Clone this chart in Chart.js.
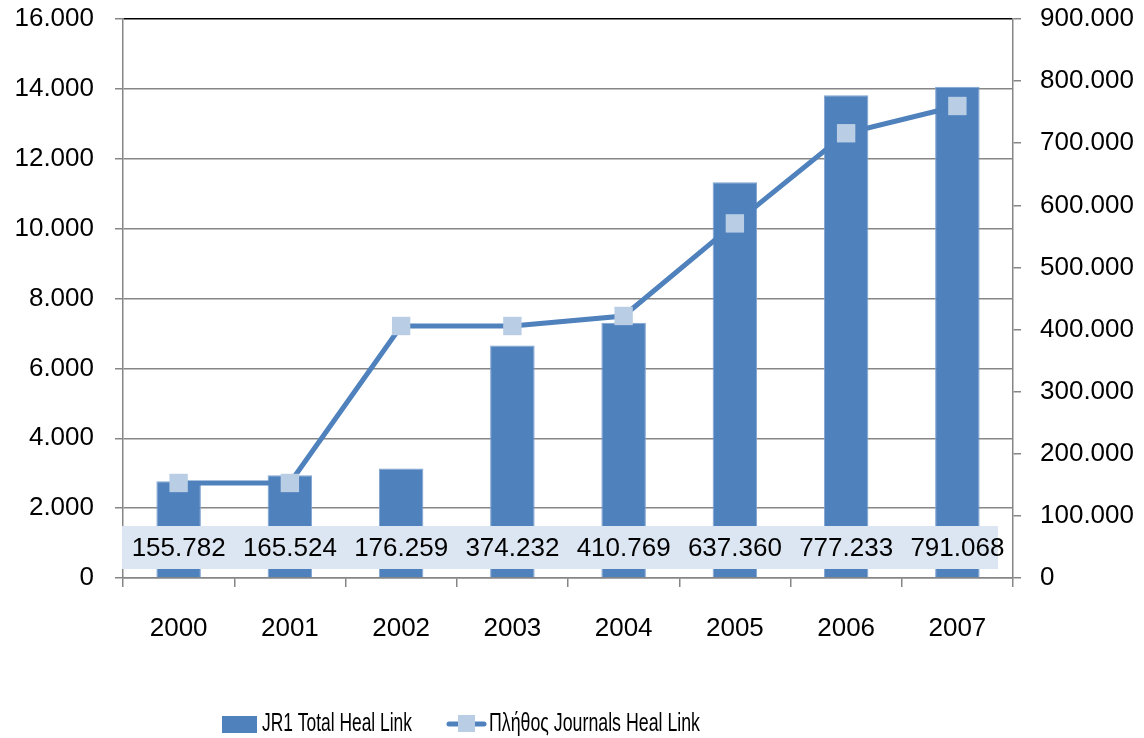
<!DOCTYPE html>
<html>
<head>
<meta charset="utf-8">
<script src="https://cdn.jsdelivr.net/npm/chart.js@4.4.1/dist/chart.umd.min.js"></script>
<style>
  html, body { margin: 0; padding: 0; background: #fff; }
  #wrap { width: 1144px; height: 738px; }
</style>
</head>
<body>
<div id="wrap"><canvas id="chart" width="1144" height="738"></canvas></div>
<script>
// Chart data
const years = ['2000', '2001', '2002', '2003', '2004', '2005', '2006', '2007'];
const jr1Total = [155782, 165524, 176259, 374232, 410769, 637360, 777233, 791068];
const journalsCount = [2720, 2720, 7213, 7213, 7500, 10150, 12730, 13510];
const leftTicks = [0, 2000, 4000, 6000, 8000, 10000, 12000, 14000, 16000];
const rightTicks = [0, 100000, 200000, 300000, 400000, 500000, 600000, 700000, 800000, 900000];
const seriesNames = ['JR1 Total Heal Link', 'Πλήθος Journals Heal Link'];

const FONT = '"Liberation Sans", Arial, sans-serif';
const BLUE = '#4f81bd';
const LIGHT = '#b9cde5';
const GRID = '#868686';

// dotted thousands, like 155.782
function fmt(v) {
    return String(v).replace(/\B(?=(\d{3})+(?!\d))/g, '.');
}

// light band with the bar values, drawn near the bottom of the plot
const valueBand = {
    id: 'valueBand',
    afterDatasetsDraw(chart) {
        const ctx = chart.ctx;
        const area = chart.chartArea;
        const x = chart.scales.x;
        ctx.save();
        ctx.fillStyle = '#dce6f2';
        ctx.fillRect(area.left - 1, 526, area.right - area.left - 14, 43);
        ctx.fillStyle = '#000';
        ctx.font = '26px ' + FONT;
        ctx.textAlign = 'center';
        ctx.textBaseline = 'middle';
        jr1Total.forEach((v, i) => {
            ctx.fillText(fmt(v), x.getPixelForValue(i), 549);
        });
        ctx.restore();
    }
};

// legend at the bottom: bar swatch, line with square marker
const bottomLegend = {
    id: 'bottomLegend',
    afterDraw(chart) {
        const ctx = chart.ctx;
        ctx.save();
        ctx.font = '25px ' + FONT;
        ctx.textBaseline = 'middle';
        ctx.fillStyle = BLUE;
        ctx.fillRect(222, 716, 35, 17);
        ctx.fillStyle = '#000';
        ctx.fillText(seriesNames[0], 262, 724, 150);

        ctx.strokeStyle = BLUE;
        ctx.lineWidth = 5;
        ctx.lineCap = 'round';
        ctx.beginPath();
        ctx.moveTo(449, 724);
        ctx.lineTo(484, 724);
        ctx.stroke();
        ctx.fillStyle = LIGHT;
        ctx.fillRect(458, 715, 17, 17);
        ctx.fillStyle = '#000';
        ctx.fillText(seriesNames[1], 489, 724, 211);
        ctx.restore();
    }
};

const chart = new Chart(document.getElementById('chart').getContext('2d'), {
    data: {
        labels: years,
        datasets: [{
            type: 'line',
            label: seriesNames[1],
            data: journalsCount,
            yAxisID: 'y',
            borderColor: BLUE,
            borderWidth: 5,
            pointStyle: 'rect',
            pointRadius: 13,
            pointHoverRadius: 13,
            pointBackgroundColor: LIGHT,
            pointBorderWidth: 0,
            tension: 0,
            order: 1
        }, {
            type: 'bar',
            label: seriesNames[0],
            data: jr1Total,
            yAxisID: 'y1',
            backgroundColor: BLUE,
            borderColor: '#7ea3d0',
            borderWidth: 1,
            categoryPercentage: 1,
            barPercentage: 0.4,
            order: 2
        }]
    },
    options: {
        responsive: false,
        animation: false,
        layout: { padding: { top: 19, left: 0, right: 0, bottom: 0 } },
        plugins: {
            legend: { display: false },
            tooltip: { enabled: false }
        },
        scales: {
            x: {
                offset: true,
                afterFit(s) { s.height = 160; s.paddingLeft = 0; s.paddingRight = 0; },
                grid: {
                    offset: true,
                    drawOnChartArea: false,
                    drawTicks: true,
                    tickLength: 9,
                    tickColor: GRID,
                    lineWidth: 1.5
                },
                border: { color: GRID, width: 1.5 },
                ticks: { color: '#000', font: { family: FONT, size: 26 }, padding: 26, maxRotation: 0 }
            },
            y: {
                position: 'left',
                min: 0,
                max: 16000,
                afterFit(s) { s.width = 123; s.paddingTop = 0; s.paddingBottom = 0; },
                afterBuildTicks(s) { s.ticks = leftTicks.map(v => ({ value: v })); },
                grid: {
                    color: ctx => ctx.tick && ctx.tick.value === 16000 ? '#000' : GRID,
                    lineWidth: 1.5,
                    tickLength: 8,
                    tickColor: GRID
                },
                border: { color: GRID, width: 1.5 },
                ticks: { color: '#000', font: { family: FONT, size: 26 }, padding: 21, callback: v => fmt(v) }
            },
            y1: {
                position: 'right',
                min: 0,
                max: 900000,
                afterFit(s) { s.width = 131; s.paddingTop = 0; s.paddingBottom = 0; },
                afterBuildTicks(s) { s.ticks = rightTicks.map(v => ({ value: v })); },
                grid: {
                    drawOnChartArea: false,
                    lineWidth: 1.5,
                    tickLength: 8,
                    tickColor: GRID
                },
                border: { color: GRID, width: 1.5 },
                ticks: { color: '#000', font: { family: FONT, size: 26 }, padding: 19, callback: v => fmt(v) }
            }
        }
    },
    plugins: [valueBand, bottomLegend]
});
</script>
</body>
</html>
